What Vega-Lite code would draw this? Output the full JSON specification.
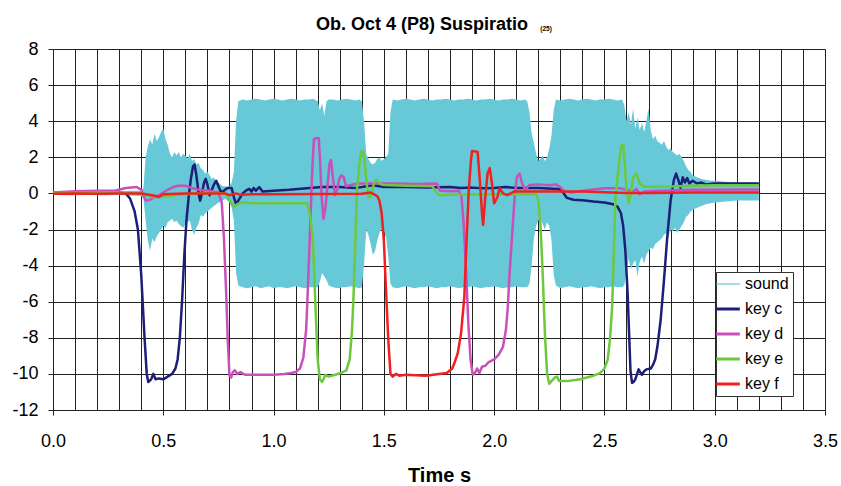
{
"$schema": "https://vega.github.io/schema/vega-lite/v6.json",
"width": 772, "height": 361,
"autosize": {"type": "none"},
"padding": {"left": 53, "top": 49, "right": 16, "bottom": 76},
"background": "white",
"config": {"view": {"stroke": "#999", "strokeWidth": 1}, "font": "Liberation Sans",
 "axisY": {"values": [-12,-10,-8,-6,-4,-2,0,2,4,6,8], "title": null, "labelExpr": "datum.value + ''",
   "labelFont": "Liberation Sans", "labelFontSize": 18, "labelColor": "black", "labelPadding": 10, "labelOverlap": false,
   "grid": true, "gridColor": "#222", "gridWidth": 1, "gridOpacity": 1,
   "tickSize": 5, "tickColor": "#222", "domainColor": "#222"}
},
"title": {
 "text": "Ob. Oct 4 (P8) Suspiratio",
 "anchor": "start", "frame": "group", "dx": 263, "offset": -8,
 "font": "Liberation Sans", "fontSize": 18, "fontWeight": "bold", "color": "black"
},
"datasets": {
 "snd": [
  {"k":"sound","t":0,"hi":0.1,"lo":-0.08},{"k":"sound","t":0.05,"hi":0.12,"lo":-0.1},{"k":"sound","t":0.1,"hi":0.1,"lo":-0.1},{"k":"sound","t":0.15,"hi":0.12,"lo":-0.08},{"k":"sound","t":0.2,"hi":0.1,"lo":-0.1},{"k":"sound","t":0.25,"hi":0.12,"lo":-0.1},{"k":"sound","t":0.3,"hi":0.1,"lo":-0.08},{"k":"sound","t":0.35,"hi":0.15,"lo":-0.12},{"k":"sound","t":0.4,"hi":0.15,"lo":-0.15},{"k":"sound","t":0.41,"hi":0.3,"lo":-0.3},
  {"k":"sound","t":0.42,"hi":2.0,"lo":-1.5},{"k":"sound","t":0.43,"hi":2.6,"lo":-2.6},{"k":"sound","t":0.44,"hi":3.0,"lo":-3.2},{"k":"sound","t":0.45,"hi":2.7,"lo":-2.5},{"k":"sound","t":0.46,"hi":3.3,"lo":-2.7},{"k":"sound","t":0.47,"hi":2.9,"lo":-2.4},{"k":"sound","t":0.48,"hi":3.1,"lo":-2.2},{"k":"sound","t":0.49,"hi":3.4,"lo":-2.0},{"k":"sound","t":0.5,"hi":3.6,"lo":-1.8},
  {"k":"sound","t":0.51,"hi":3.0,"lo":-1.9},{"k":"sound","t":0.52,"hi":2.7,"lo":-1.6},{"k":"sound","t":0.53,"hi":2.2,"lo":-1.5},{"k":"sound","t":0.54,"hi":2.0,"lo":-1.4},{"k":"sound","t":0.55,"hi":2.3,"lo":-1.6},{"k":"sound","t":0.56,"hi":2.1,"lo":-1.5},{"k":"sound","t":0.57,"hi":2.3,"lo":-1.7},{"k":"sound","t":0.58,"hi":2.0,"lo":-1.8},{"k":"sound","t":0.59,"hi":2.2,"lo":-1.9},{"k":"sound","t":0.6,"hi":2.1,"lo":-1.7},
  {"k":"sound","t":0.61,"hi":1.9,"lo":-1.6},{"k":"sound","t":0.62,"hi":2.2,"lo":-1.5},{"k":"sound","t":0.63,"hi":1.8,"lo":-2.0},{"k":"sound","t":0.64,"hi":1.9,"lo":-2.3},{"k":"sound","t":0.65,"hi":1.6,"lo":-1.9},{"k":"sound","t":0.66,"hi":1.7,"lo":-1.7},{"k":"sound","t":0.67,"hi":1.4,"lo":-1.2},{"k":"sound","t":0.68,"hi":1.3,"lo":-1.3},{"k":"sound","t":0.69,"hi":1.1,"lo":-1.1},{"k":"sound","t":0.7,"hi":1.2,"lo":-1.0},
  {"k":"sound","t":0.71,"hi":1.0,"lo":-0.9},{"k":"sound","t":0.72,"hi":0.8,"lo":-0.8},{"k":"sound","t":0.73,"hi":0.9,"lo":-0.7},{"k":"sound","t":0.74,"hi":0.6,"lo":-0.6},{"k":"sound","t":0.75,"hi":0.6,"lo":-0.5},{"k":"sound","t":0.76,"hi":0.5,"lo":-0.5},{"k":"sound","t":0.77,"hi":0.4,"lo":-0.4},{"k":"sound","t":0.78,"hi":0.4,"lo":-0.3},{"k":"sound","t":0.79,"hi":0.35,"lo":-0.4},{"k":"sound","t":0.8,"hi":0.4,"lo":-0.5},
  {"k":"sound","t":0.81,"hi":0.6,"lo":-0.8},{"k":"sound","t":0.82,"hi":1.2,"lo":-1.5},{"k":"sound","t":0.83,"hi":4.0,"lo":-4.4},{"k":"sound","t":0.84,"hi":5.1,"lo":-5.1},{"k":"sound","t":0.86,"hi":5.2,"lo":-5.2},{"k":"sound","t":0.88,"hi":5.15,"lo":-5.25},{"k":"sound","t":0.9,"hi":5.2,"lo":-5.2},{"k":"sound","t":0.92,"hi":5.25,"lo":-5.15},{"k":"sound","t":0.94,"hi":5.2,"lo":-5.25},{"k":"sound","t":0.96,"hi":5.15,"lo":-5.2},{"k":"sound","t":0.98,"hi":5.2,"lo":-5.15},{"k":"sound","t":1.0,"hi":5.25,"lo":-5.25},
  {"k":"sound","t":1.02,"hi":5.2,"lo":-5.2},{"k":"sound","t":1.04,"hi":5.15,"lo":-5.2},{"k":"sound","t":1.06,"hi":5.2,"lo":-5.25},{"k":"sound","t":1.08,"hi":5.25,"lo":-5.2},{"k":"sound","t":1.1,"hi":5.2,"lo":-5.15},{"k":"sound","t":1.12,"hi":5.15,"lo":-5.2},{"k":"sound","t":1.14,"hi":5.2,"lo":-5.25},{"k":"sound","t":1.16,"hi":5.2,"lo":-5.2},{"k":"sound","t":1.18,"hi":5.25,"lo":-5.2},{"k":"sound","t":1.2,"hi":5.1,"lo":-5.2},
  {"k":"sound","t":1.21,"hi":4.6,"lo":-4.9},{"k":"sound","t":1.22,"hi":5.0,"lo":-4.4},{"k":"sound","t":1.23,"hi":4.3,"lo":-4.6},{"k":"sound","t":1.24,"hi":5.1,"lo":-4.8},{"k":"sound","t":1.25,"hi":5.2,"lo":-5.1},{"k":"sound","t":1.27,"hi":5.2,"lo":-5.2},{"k":"sound","t":1.29,"hi":5.15,"lo":-5.25},{"k":"sound","t":1.31,"hi":5.2,"lo":-5.2},{"k":"sound","t":1.33,"hi":5.25,"lo":-5.2},{"k":"sound","t":1.35,"hi":5.2,"lo":-5.15},{"k":"sound","t":1.37,"hi":5.15,"lo":-5.2},{"k":"sound","t":1.39,"hi":5.2,"lo":-5.25},{"k":"sound","t":1.4,"hi":5.1,"lo":-5.2},
  {"k":"sound","t":1.41,"hi":4.0,"lo":-4.0},{"k":"sound","t":1.42,"hi":2.2,"lo":-2.0},{"k":"sound","t":1.43,"hi":1.9,"lo":-2.3},{"k":"sound","t":1.44,"hi":1.7,"lo":-2.8},{"k":"sound","t":1.45,"hi":1.6,"lo":-3.4},{"k":"sound","t":1.46,"hi":1.7,"lo":-3.2},{"k":"sound","t":1.47,"hi":1.9,"lo":-2.6},{"k":"sound","t":1.48,"hi":2.0,"lo":-2.2},{"k":"sound","t":1.49,"hi":1.8,"lo":-2.0},{"k":"sound","t":1.5,"hi":1.9,"lo":-2.1},
  {"k":"sound","t":1.51,"hi":2.0,"lo":-2.4},{"k":"sound","t":1.52,"hi":2.2,"lo":-3.5},{"k":"sound","t":1.53,"hi":4.5,"lo":-5.0},{"k":"sound","t":1.54,"hi":5.2,"lo":-5.2},{"k":"sound","t":1.56,"hi":5.15,"lo":-5.25},{"k":"sound","t":1.58,"hi":5.2,"lo":-5.2},{"k":"sound","t":1.6,"hi":5.25,"lo":-5.15},{"k":"sound","t":1.62,"hi":5.2,"lo":-5.2},{"k":"sound","t":1.64,"hi":5.15,"lo":-5.25},{"k":"sound","t":1.66,"hi":5.2,"lo":-5.2},{"k":"sound","t":1.68,"hi":5.25,"lo":-5.2},{"k":"sound","t":1.7,"hi":5.2,"lo":-5.15},
  {"k":"sound","t":1.72,"hi":5.15,"lo":-5.2},{"k":"sound","t":1.74,"hi":5.2,"lo":-5.25},{"k":"sound","t":1.76,"hi":5.2,"lo":-5.2},{"k":"sound","t":1.78,"hi":5.25,"lo":-5.2},{"k":"sound","t":1.8,"hi":5.2,"lo":-5.15},{"k":"sound","t":1.82,"hi":5.15,"lo":-5.2},{"k":"sound","t":1.84,"hi":5.2,"lo":-5.25},{"k":"sound","t":1.86,"hi":5.2,"lo":-5.2},{"k":"sound","t":1.88,"hi":5.25,"lo":-5.2},{"k":"sound","t":1.9,"hi":5.2,"lo":-5.15},
  {"k":"sound","t":1.92,"hi":5.15,"lo":-5.2},{"k":"sound","t":1.94,"hi":5.2,"lo":-5.25},{"k":"sound","t":1.96,"hi":5.2,"lo":-5.2},{"k":"sound","t":1.98,"hi":5.25,"lo":-5.2},{"k":"sound","t":2.0,"hi":5.2,"lo":-5.15},{"k":"sound","t":2.02,"hi":5.15,"lo":-5.2},{"k":"sound","t":2.04,"hi":5.2,"lo":-5.25},{"k":"sound","t":2.06,"hi":5.2,"lo":-5.2},{"k":"sound","t":2.08,"hi":5.25,"lo":-5.2},{"k":"sound","t":2.1,"hi":5.2,"lo":-5.15},{"k":"sound","t":2.12,"hi":5.15,"lo":-5.2},{"k":"sound","t":2.14,"hi":5.2,"lo":-5.2},{"k":"sound","t":2.15,"hi":5.1,"lo":-5.2},
  {"k":"sound","t":2.16,"hi":4.5,"lo":-5.0},{"k":"sound","t":2.17,"hi":3.3,"lo":-4.0},{"k":"sound","t":2.18,"hi":2.8,"lo":-2.5},{"k":"sound","t":2.19,"hi":2.2,"lo":-1.8},{"k":"sound","t":2.2,"hi":1.8,"lo":-1.5},{"k":"sound","t":2.21,"hi":1.9,"lo":-1.4},{"k":"sound","t":2.22,"hi":2.1,"lo":-1.7},{"k":"sound","t":2.23,"hi":1.8,"lo":-2.0},{"k":"sound","t":2.24,"hi":2.0,"lo":-1.6},{"k":"sound","t":2.25,"hi":2.5,"lo":-1.8},{"k":"sound","t":2.26,"hi":3.2,"lo":-2.6},{"k":"sound","t":2.27,"hi":4.6,"lo":-4.5},
  {"k":"sound","t":2.28,"hi":5.2,"lo":-5.1},{"k":"sound","t":2.3,"hi":5.15,"lo":-5.25},{"k":"sound","t":2.32,"hi":5.2,"lo":-5.2},{"k":"sound","t":2.34,"hi":5.25,"lo":-5.15},{"k":"sound","t":2.36,"hi":5.2,"lo":-5.2},{"k":"sound","t":2.38,"hi":5.15,"lo":-5.25},{"k":"sound","t":2.4,"hi":5.2,"lo":-5.2},{"k":"sound","t":2.42,"hi":5.25,"lo":-5.2},{"k":"sound","t":2.44,"hi":5.2,"lo":-5.15},{"k":"sound","t":2.46,"hi":5.15,"lo":-5.2},{"k":"sound","t":2.48,"hi":5.2,"lo":-5.25},{"k":"sound","t":2.5,"hi":5.2,"lo":-5.2},{"k":"sound","t":2.52,"hi":5.25,"lo":-5.2},{"k":"sound","t":2.54,"hi":5.2,"lo":-5.15},{"k":"sound","t":2.56,"hi":5.15,"lo":-5.2},{"k":"sound","t":2.58,"hi":5.2,"lo":-5.2},
  {"k":"sound","t":2.59,"hi":4.9,"lo":-5.1},{"k":"sound","t":2.6,"hi":4.0,"lo":-4.3},{"k":"sound","t":2.61,"hi":4.5,"lo":-3.6},{"k":"sound","t":2.62,"hi":3.8,"lo":-4.2},{"k":"sound","t":2.63,"hi":4.7,"lo":-3.9},{"k":"sound","t":2.64,"hi":3.6,"lo":-3.7},{"k":"sound","t":2.65,"hi":4.2,"lo":-4.6},{"k":"sound","t":2.66,"hi":3.5,"lo":-3.8},{"k":"sound","t":2.67,"hi":3.9,"lo":-3.5},{"k":"sound","t":2.68,"hi":3.4,"lo":-3.9},{"k":"sound","t":2.69,"hi":4.0,"lo":-3.4},{"k":"sound","t":2.7,"hi":4.7,"lo":-3.2},
  {"k":"sound","t":2.71,"hi":3.5,"lo":-3.0},{"k":"sound","t":2.72,"hi":3.0,"lo":-3.1},{"k":"sound","t":2.73,"hi":3.2,"lo":-2.8},{"k":"sound","t":2.74,"hi":2.9,"lo":-2.7},{"k":"sound","t":2.75,"hi":2.8,"lo":-2.6},{"k":"sound","t":2.76,"hi":2.7,"lo":-2.5},{"k":"sound","t":2.77,"hi":2.9,"lo":-2.3},{"k":"sound","t":2.78,"hi":2.6,"lo":-2.2},{"k":"sound","t":2.79,"hi":2.4,"lo":-2.4},{"k":"sound","t":2.8,"hi":2.5,"lo":-2.0},
  {"k":"sound","t":2.81,"hi":2.3,"lo":-2.1},{"k":"sound","t":2.82,"hi":2.2,"lo":-1.9},{"k":"sound","t":2.83,"hi":2.1,"lo":-2.2},{"k":"sound","t":2.84,"hi":2.2,"lo":-2.0},{"k":"sound","t":2.85,"hi":2.0,"lo":-1.8},{"k":"sound","t":2.86,"hi":1.8,"lo":-1.6},{"k":"sound","t":2.87,"hi":1.5,"lo":-1.3},{"k":"sound","t":2.88,"hi":1.3,"lo":-1.2},{"k":"sound","t":2.89,"hi":1.2,"lo":-1.0},{"k":"sound","t":2.9,"hi":1.0,"lo":-0.9},
  {"k":"sound","t":2.92,"hi":0.9,"lo":-0.8},{"k":"sound","t":2.94,"hi":0.8,"lo":-0.7},{"k":"sound","t":2.96,"hi":0.75,"lo":-0.6},{"k":"sound","t":2.98,"hi":0.7,"lo":-0.55},{"k":"sound","t":3.0,"hi":0.7,"lo":-0.5},{"k":"sound","t":3.05,"hi":0.65,"lo":-0.45},{"k":"sound","t":3.1,"hi":0.6,"lo":-0.4},{"k":"sound","t":3.15,"hi":0.6,"lo":-0.4},{"k":"sound","t":3.2,"hi":0.6,"lo":-0.4}
 ],
 "keys": [
  {"k":"key c","t":0,"v":0.05},{"k":"key c","t":0.1,"v":0.05},{"k":"key c","t":0.2,"v":0.08},{"k":"key c","t":0.3,"v":0.05},{"k":"key c","t":0.33,"v":0.0},{"k":"key c","t":0.35,"v":-0.3},{"k":"key c","t":0.37,"v":-1.0},{"k":"key c","t":0.385,"v":-2.0},{"k":"key c","t":0.4,"v":-4.5},{"k":"key c","t":0.415,"v":-8.0},{"k":"key c","t":0.425,"v":-10.0},{"k":"key c","t":0.432,"v":-10.45},{"k":"key c","t":0.445,"v":-10.3},{"k":"key c","t":0.455,"v":-10.0},{"k":"key c","t":0.465,"v":-10.3},{"k":"key c","t":0.48,"v":-10.25},{"k":"key c","t":0.5,"v":-10.3},{"k":"key c","t":0.52,"v":-10.15},{"k":"key c","t":0.54,"v":-10.0},{"k":"key c","t":0.555,"v":-9.7},{"k":"key c","t":0.565,"v":-9.2},{"k":"key c","t":0.575,"v":-8.0},{"k":"key c","t":0.585,"v":-6.0},{"k":"key c","t":0.595,"v":-3.5},{"k":"key c","t":0.605,"v":-1.5},{"k":"key c","t":0.615,"v":-0.2},{"k":"key c","t":0.625,"v":0.8},{"k":"key c","t":0.635,"v":1.5},{"k":"key c","t":0.642,"v":1.6},{"k":"key c","t":0.65,"v":1.0},{"k":"key c","t":0.66,"v":0.0},{"k":"key c","t":0.667,"v":-0.4},{"k":"key c","t":0.675,"v":0.0},{"k":"key c","t":0.685,"v":0.6},{"k":"key c","t":0.692,"v":0.8},{"k":"key c","t":0.7,"v":0.5},{"k":"key c","t":0.71,"v":-0.1},{"k":"key c","t":0.72,"v":0.2},{"k":"key c","t":0.73,"v":0.5},{"k":"key c","t":0.74,"v":0.7},{"k":"key c","t":0.75,"v":0.4},{"k":"key c","t":0.76,"v":0.1},{"k":"key c","t":0.77,"v":0.1},{"k":"key c","t":0.79,"v":0.3},{"k":"key c","t":0.81,"v":0.3},{"k":"key c","t":0.82,"v":-0.2},{"k":"key c","t":0.83,"v":-0.6},{"k":"key c","t":0.84,"v":-0.4},{"k":"key c","t":0.86,"v":0.0},{"k":"key c","t":0.88,"v":0.2},{"k":"key c","t":0.89,"v":0.25},{"k":"key c","t":0.9,"v":0.1},{"k":"key c","t":0.91,"v":0.3},{"k":"key c","t":0.92,"v":0.15},{"k":"key c","t":0.935,"v":0.35},{"k":"key c","t":0.95,"v":0.1},{"k":"key c","t":1.0,"v":0.15},{"k":"key c","t":1.07,"v":0.2},{"k":"key c","t":1.15,"v":0.28},{"k":"key c","t":1.22,"v":0.35},{"k":"key c","t":1.3,"v":0.35},{"k":"key c","t":1.37,"v":0.3},{"k":"key c","t":1.4,"v":0.35},{"k":"key c","t":1.45,"v":0.45},{"k":"key c","t":1.5,"v":0.35},{"k":"key c","t":1.6,"v":0.35},{"k":"key c","t":1.7,"v":0.32},{"k":"key c","t":1.8,"v":0.35},{"k":"key c","t":1.85,"v":0.3},{"k":"key c","t":1.9,"v":0.32},{"k":"key c","t":1.95,"v":0.28},{"k":"key c","t":2.0,"v":0.3},{"k":"key c","t":2.05,"v":0.36},{"k":"key c","t":2.1,"v":0.3},{"k":"key c","t":2.2,"v":0.3},{"k":"key c","t":2.29,"v":0.25},{"k":"key c","t":2.31,"v":0.1},{"k":"key c","t":2.33,"v":-0.25},{"k":"key c","t":2.36,"v":-0.35},{"k":"key c","t":2.4,"v":-0.38},{"k":"key c","t":2.45,"v":-0.45},{"k":"key c","t":2.5,"v":-0.5},{"k":"key c","t":2.54,"v":-0.6},{"k":"key c","t":2.56,"v":-0.75},{"k":"key c","t":2.575,"v":-1.1},{"k":"key c","t":2.585,"v":-1.8},{"k":"key c","t":2.595,"v":-3.2},{"k":"key c","t":2.605,"v":-5.5},{"k":"key c","t":2.612,"v":-7.8},{"k":"key c","t":2.618,"v":-9.8},{"k":"key c","t":2.625,"v":-10.5},{"k":"key c","t":2.632,"v":-10.45},{"k":"key c","t":2.64,"v":-10.3},{"k":"key c","t":2.648,"v":-10.0},{"k":"key c","t":2.655,"v":-9.75},{"k":"key c","t":2.662,"v":-9.9},{"k":"key c","t":2.67,"v":-10.05},{"k":"key c","t":2.68,"v":-9.85},{"k":"key c","t":2.69,"v":-9.75},{"k":"key c","t":2.71,"v":-9.7},{"k":"key c","t":2.72,"v":-9.5},{"k":"key c","t":2.73,"v":-9.2},{"k":"key c","t":2.74,"v":-8.5},{"k":"key c","t":2.755,"v":-7.0},{"k":"key c","t":2.77,"v":-4.8},{"k":"key c","t":2.785,"v":-2.4},{"k":"key c","t":2.8,"v":-0.4},{"k":"key c","t":2.815,"v":0.75},{"k":"key c","t":2.825,"v":1.1},{"k":"key c","t":2.835,"v":0.75},{"k":"key c","t":2.845,"v":0.3},{"k":"key c","t":2.855,"v":0.9},{"k":"key c","t":2.865,"v":0.6},{"k":"key c","t":2.875,"v":0.85},{"k":"key c","t":2.885,"v":0.55},{"k":"key c","t":2.9,"v":0.7},{"k":"key c","t":2.92,"v":0.55},{"k":"key c","t":2.94,"v":0.6},{"k":"key c","t":2.96,"v":0.5},{"k":"key c","t":3.0,"v":0.55},{"k":"key c","t":3.1,"v":0.55},{"k":"key c","t":3.2,"v":0.55},
  {"k":"key d","t":0,"v":0.05},{"k":"key d","t":0.1,"v":0.12},{"k":"key d","t":0.2,"v":0.15},{"k":"key d","t":0.28,"v":0.15},{"k":"key d","t":0.33,"v":0.3},{"k":"key d","t":0.38,"v":0.35},{"k":"key d","t":0.4,"v":0.2},{"k":"key d","t":0.42,"v":-0.4},{"k":"key d","t":0.44,"v":-0.35},{"k":"key d","t":0.46,"v":-0.2},{"k":"key d","t":0.48,"v":-0.1},{"k":"key d","t":0.5,"v":0.05},{"k":"key d","t":0.52,"v":0.2},{"k":"key d","t":0.545,"v":0.35},{"k":"key d","t":0.57,"v":0.42},{"k":"key d","t":0.6,"v":0.42},{"k":"key d","t":0.63,"v":0.3},{"k":"key d","t":0.66,"v":0.2},{"k":"key d","t":0.71,"v":0.15},{"k":"key d","t":0.75,"v":0.05},{"k":"key d","t":0.765,"v":-0.5},{"k":"key d","t":0.775,"v":-2.5},{"k":"key d","t":0.785,"v":-5.5},{"k":"key d","t":0.792,"v":-8.0},{"k":"key d","t":0.8,"v":-10.1},{"k":"key d","t":0.808,"v":-10.2},{"k":"key d","t":0.815,"v":-9.9},{"k":"key d","t":0.825,"v":-9.8},{"k":"key d","t":0.835,"v":-10.0},{"k":"key d","t":0.85,"v":-9.9},{"k":"key d","t":0.87,"v":-10.05},{"k":"key d","t":0.9,"v":-10.05},{"k":"key d","t":1.0,"v":-10.05},{"k":"key d","t":1.05,"v":-10.0},{"k":"key d","t":1.08,"v":-9.95},{"k":"key d","t":1.1,"v":-9.9},{"k":"key d","t":1.12,"v":-9.7},{"k":"key d","t":1.135,"v":-9.1},{"k":"key d","t":1.148,"v":-7.5},{"k":"key d","t":1.158,"v":-4.5},{"k":"key d","t":1.167,"v":-1.5},{"k":"key d","t":1.175,"v":1.2},{"k":"key d","t":1.183,"v":3.0},{"k":"key d","t":1.19,"v":3.05},{"k":"key d","t":1.205,"v":3.05},{"k":"key d","t":1.21,"v":2.0},{"k":"key d","t":1.218,"v":-0.2},{"k":"key d","t":1.226,"v":-1.4},{"k":"key d","t":1.235,"v":-0.8},{"k":"key d","t":1.245,"v":0.5},{"k":"key d","t":1.253,"v":1.6},{"k":"key d","t":1.26,"v":1.85},{"k":"key d","t":1.268,"v":1.0},{"k":"key d","t":1.278,"v":-0.1},{"k":"key d","t":1.288,"v":0.2},{"k":"key d","t":1.298,"v":0.8},{"k":"key d","t":1.307,"v":1.0},{"k":"key d","t":1.318,"v":0.9},{"k":"key d","t":1.328,"v":0.4},{"k":"key d","t":1.345,"v":0.45},{"k":"key d","t":1.38,"v":0.55},{"k":"key d","t":1.45,"v":0.55},{"k":"key d","t":1.55,"v":0.55},{"k":"key d","t":1.65,"v":0.52},{"k":"key d","t":1.74,"v":0.55},{"k":"key d","t":1.755,"v":0.15},{"k":"key d","t":1.8,"v":0.12},{"k":"key d","t":1.84,"v":0.15},{"k":"key d","t":1.852,"v":-0.2},{"k":"key d","t":1.862,"v":-1.7},{"k":"key d","t":1.873,"v":-4.4},{"k":"key d","t":1.883,"v":-7.2},{"k":"key d","t":1.893,"v":-9.2},{"k":"key d","t":1.903,"v":-10.05},{"k":"key d","t":1.913,"v":-9.95},{"k":"key d","t":1.923,"v":-9.7},{"k":"key d","t":1.933,"v":-9.95},{"k":"key d","t":1.945,"v":-9.6},{"k":"key d","t":1.96,"v":-9.55},{"k":"key d","t":1.975,"v":-9.35},{"k":"key d","t":2.0,"v":-9.2},{"k":"key d","t":2.02,"v":-8.95},{"k":"key d","t":2.04,"v":-8.5},{"k":"key d","t":2.053,"v":-7.6},{"k":"key d","t":2.062,"v":-6.3},{"k":"key d","t":2.07,"v":-4.4},{"k":"key d","t":2.082,"v":-2.2},{"k":"key d","t":2.093,"v":-0.2},{"k":"key d","t":2.103,"v":0.9},{"k":"key d","t":2.115,"v":1.1},{"k":"key d","t":2.127,"v":0.55},{"k":"key d","t":2.14,"v":0.2},{"k":"key d","t":2.16,"v":0.46},{"k":"key d","t":2.2,"v":0.5},{"k":"key d","t":2.25,"v":0.45},{"k":"key d","t":2.28,"v":0.5},{"k":"key d","t":2.3,"v":0.35},{"k":"key d","t":2.32,"v":0.1},{"k":"key d","t":2.35,"v":0.05},{"k":"key d","t":2.42,"v":0.18},{"k":"key d","t":2.5,"v":0.28},{"k":"key d","t":2.57,"v":0.28},{"k":"key d","t":2.6,"v":0.2},{"k":"key d","t":2.63,"v":0.1},{"k":"key d","t":2.645,"v":0.25},{"k":"key d","t":2.66,"v":-0.05},{"k":"key d","t":2.68,"v":0.1},{"k":"key d","t":2.75,"v":0.15},{"k":"key d","t":2.9,"v":0.2},{"k":"key d","t":3.2,"v":0.22},
  {"k":"key e","t":0,"v":0.02},{"k":"key e","t":0.3,"v":0.05},{"k":"key e","t":0.4,"v":0.0},{"k":"key e","t":0.45,"v":-0.2},{"k":"key e","t":0.5,"v":-0.18},{"k":"key e","t":0.55,"v":-0.1},{"k":"key e","t":0.6,"v":-0.05},{"k":"key e","t":0.7,"v":0.03},{"k":"key e","t":0.78,"v":0.0},{"k":"key e","t":0.8,"v":-0.37},{"k":"key e","t":0.82,"v":-0.75},{"k":"key e","t":0.835,"v":-0.6},{"k":"key e","t":0.86,"v":-0.5},{"k":"key e","t":0.9,"v":-0.55},{"k":"key e","t":1.0,"v":-0.55},{"k":"key e","t":1.1,"v":-0.55},{"k":"key e","t":1.15,"v":-0.55},{"k":"key e","t":1.16,"v":-0.8},{"k":"key e","t":1.17,"v":-1.6},{"k":"key e","t":1.18,"v":-3.0},{"k":"key e","t":1.19,"v":-6.3},{"k":"key e","t":1.2,"v":-9.2},{"k":"key e","t":1.21,"v":-10.3},{"k":"key e","t":1.22,"v":-10.45},{"k":"key e","t":1.23,"v":-10.2},{"k":"key e","t":1.235,"v":-10.05},{"k":"key e","t":1.25,"v":-10.15},{"k":"key e","t":1.28,"v":-10.05},{"k":"key e","t":1.305,"v":-9.95},{"k":"key e","t":1.33,"v":-9.8},{"k":"key e","t":1.345,"v":-9.2},{"k":"key e","t":1.355,"v":-7.7},{"k":"key e","t":1.362,"v":-5.9},{"k":"key e","t":1.37,"v":-3.0},{"k":"key e","t":1.378,"v":0.2},{"k":"key e","t":1.388,"v":1.5},{"k":"key e","t":1.397,"v":2.3},{"k":"key e","t":1.405,"v":2.35},{"k":"key e","t":1.412,"v":1.9},{"k":"key e","t":1.42,"v":0.75},{"k":"key e","t":1.43,"v":-0.2},{"k":"key e","t":1.44,"v":-0.2},{"k":"key e","t":1.455,"v":0.55},{"k":"key e","t":1.465,"v":0.75},{"k":"key e","t":1.48,"v":0.55},{"k":"key e","t":1.5,"v":0.46},{"k":"key e","t":1.6,"v":0.42},{"k":"key e","t":1.72,"v":0.4},{"k":"key e","t":1.735,"v":0.1},{"k":"key e","t":1.75,"v":-0.1},{"k":"key e","t":1.8,"v":-0.08},{"k":"key e","t":1.9,"v":-0.05},{"k":"key e","t":2.0,"v":-0.05},{"k":"key e","t":2.1,"v":-0.05},{"k":"key e","t":2.19,"v":-0.05},{"k":"key e","t":2.2,"v":-0.37},{"k":"key e","t":2.21,"v":-1.7},{"k":"key e","t":2.22,"v":-4.4},{"k":"key e","t":2.23,"v":-7.7},{"k":"key e","t":2.24,"v":-10.0},{"k":"key e","t":2.25,"v":-10.55},{"k":"key e","t":2.26,"v":-10.4},{"k":"key e","t":2.275,"v":-10.2},{"k":"key e","t":2.285,"v":-10.15},{"k":"key e","t":2.295,"v":-10.4},{"k":"key e","t":2.33,"v":-10.4},{"k":"key e","t":2.39,"v":-10.3},{"k":"key e","t":2.45,"v":-10.1},{"k":"key e","t":2.48,"v":-9.96},{"k":"key e","t":2.5,"v":-9.7},{"k":"key e","t":2.515,"v":-9.2},{"k":"key e","t":2.525,"v":-8.1},{"k":"key e","t":2.535,"v":-6.3},{"k":"key e","t":2.542,"v":-3.5},{"k":"key e","t":2.55,"v":-0.2},{"k":"key e","t":2.565,"v":1.5},{"k":"key e","t":2.575,"v":2.6},{"k":"key e","t":2.585,"v":2.7},{"k":"key e","t":2.592,"v":1.7},{"k":"key e","t":2.6,"v":0.2},{"k":"key e","t":2.61,"v":-0.55},{"k":"key e","t":2.62,"v":0.0},{"k":"key e","t":2.63,"v":0.9},{"k":"key e","t":2.645,"v":1.1},{"k":"key e","t":2.66,"v":0.55},{"k":"key e","t":2.68,"v":0.37},{"k":"key e","t":2.8,"v":0.38},{"k":"key e","t":2.9,"v":0.42},{"k":"key e","t":3.0,"v":0.45},{"k":"key e","t":3.2,"v":0.45},
  {"k":"key f","t":0,"v":-0.02},{"k":"key f","t":0.1,"v":0.0},{"k":"key f","t":0.2,"v":-0.02},{"k":"key f","t":0.3,"v":0.0},{"k":"key f","t":0.4,"v":0.0},{"k":"key f","t":0.45,"v":-0.1},{"k":"key f","t":0.48,"v":-0.2},{"k":"key f","t":0.5,"v":-0.05},{"k":"key f","t":0.6,"v":0.0},{"k":"key f","t":0.7,"v":0.0},{"k":"key f","t":0.78,"v":0.0},{"k":"key f","t":0.8,"v":-0.1},{"k":"key f","t":0.83,"v":0.0},{"k":"key f","t":0.85,"v":-0.08},{"k":"key f","t":0.9,"v":-0.05},{"k":"key f","t":1.0,"v":-0.05},{"k":"key f","t":1.2,"v":-0.03},{"k":"key f","t":1.4,"v":-0.02},{"k":"key f","t":1.44,"v":0.05},{"k":"key f","t":1.47,"v":-0.15},{"k":"key f","t":1.48,"v":-0.4},{"k":"key f","t":1.49,"v":-1.1},{"k":"key f","t":1.5,"v":-2.6},{"k":"key f","t":1.51,"v":-5.4},{"k":"key f","t":1.52,"v":-8.1},{"k":"key f","t":1.53,"v":-10.0},{"k":"key f","t":1.54,"v":-10.15},{"k":"key f","t":1.555,"v":-10.0},{"k":"key f","t":1.57,"v":-10.1},{"k":"key f","t":1.6,"v":-10.05},{"k":"key f","t":1.69,"v":-10.1},{"k":"key f","t":1.75,"v":-10.0},{"k":"key f","t":1.785,"v":-9.95},{"k":"key f","t":1.81,"v":-9.7},{"k":"key f","t":1.82,"v":-9.4},{"k":"key f","t":1.835,"v":-8.85},{"k":"key f","t":1.85,"v":-7.75},{"k":"key f","t":1.865,"v":-5.7},{"k":"key f","t":1.875,"v":-2.6},{"k":"key f","t":1.885,"v":0.2},{"k":"key f","t":1.895,"v":1.85},{"k":"key f","t":1.9,"v":2.35},{"k":"key f","t":1.925,"v":2.3},{"k":"key f","t":1.935,"v":0.75},{"k":"key f","t":1.945,"v":-1.1},{"k":"key f","t":1.95,"v":-1.75},{"k":"key f","t":1.96,"v":-0.2},{"k":"key f","t":1.97,"v":1.1},{"k":"key f","t":1.98,"v":1.4},{"k":"key f","t":1.99,"v":0.55},{"k":"key f","t":2.0,"v":-0.55},{"k":"key f","t":2.015,"v":-0.2},{"k":"key f","t":2.025,"v":0.28},{"k":"key f","t":2.04,"v":0.0},{"k":"key f","t":2.06,"v":-0.1},{"k":"key f","t":2.09,"v":0.1},{"k":"key f","t":2.2,"v":0.1},{"k":"key f","t":2.3,"v":0.1},{"k":"key f","t":2.4,"v":0.1},{"k":"key f","t":2.6,"v":0.02},{"k":"key f","t":2.7,"v":0.02},{"k":"key f","t":2.9,"v":0.05},{"k":"key f","t":3.2,"v":0.05}
 ],
 "note": [{"label": "(25)", "t": 2.209, "v": 9.0}]
},
"encoding": {
 "x": {"field": "t", "type": "quantitative",
  "scale": {"domain": [0, 3.5], "nice": false, "zero": false},
  "axis": {
   "values": [0,0.1,0.2,0.3,0.4,0.5,0.6,0.7,0.8,0.9,1.0,1.1,1.2,1.3,1.4,1.5,1.6,1.7,1.8,1.9,2.0,2.1,2.2,2.3,2.4,2.5,2.6,2.7,2.8,2.9,3.0,3.1,3.2,3.3,3.4,3.5],
   "labelExpr": "abs(datum.value*2 - round(datum.value*2)) < 0.001 ? format(datum.value, '.1f') : ''",
   "title": "Time s", "titleFont": "Liberation Sans", "titleFontSize": 20, "titleFontWeight": "bold", "titleColor": "black", "titlePadding": 15,
   "labelFont": "Liberation Sans", "labelFontSize": 18, "labelColor": "black", "labelPadding": 17, "labelOverlap": false, "labelFlush": false, "labelBound": false,
   "grid": true, "gridColor": "#222", "gridWidth": 1, "gridOpacity": 1,
   "tickSize": 5, "tickColor": "#222",
   "tickOpacity": {"condition": {"test": "abs(datum.value*2 - round(datum.value*2)) < 0.001", "value": 1}, "value": 0},
   "domainColor": "#222"
  }
 }
},
"layer": [
 {"data": {"name": "snd"},
  "mark": {"type": "area", "opacity": 1},
  "encoding": {
   "y": {"field": "hi", "type": "quantitative", "title": null,
    "scale": {"domain": [-12, 8], "nice": false, "zero": false}},
   "y2": {"field": "lo"},
   "color": {"field": "k", "type": "nominal",
    "scale": {"domain": ["sound", "key c", "key d", "key e", "key f"], "range": ["#67c8d7", "#1e1e78", "#c850b8", "#6cc83c", "#f02020"]}}
  }
 },
 {"data": {"name": "keys"},
  "mark": {"type": "line", "strokeWidth": 2.5, "strokeJoin": "round"},
  "encoding": {
   "y": {"field": "v", "type": "quantitative", "title": null},
   "color": {"field": "k", "type": "nominal",
    "legend": {
     "title": null, "orient": "none", "legendX": 663, "legendY": 223,
     "padding": 4, "fillColor": "white", "strokeColor": "#333",
     "symbolType": "stroke", "symbolSize": 560, "symbolStrokeWidth": 3, "rowPadding": 9,
     "labelFont": "Liberation Sans", "labelFontSize": 16, "labelColor": "black", "labelOffset": 9,
     "encode": {"symbols": {"update": {
       "strokeWidth": {"signal": "datum.label === 'sound' ? 1.2 : 3"}
     }}}
    }}
  }
 },
 {"data": {"name": "note"},
  "mark": {"type": "text", "align": "left", "baseline": "alphabetic", "font": "Liberation Sans", "fontSize": 6.5, "fontWeight": "bold", "fill": "black"},
  "encoding": {
   "x": {"field": "t", "type": "quantitative"},
   "y": {"field": "v", "type": "quantitative", "title": null},
   "text": {"field": "label"}
  }
 }
]
}
